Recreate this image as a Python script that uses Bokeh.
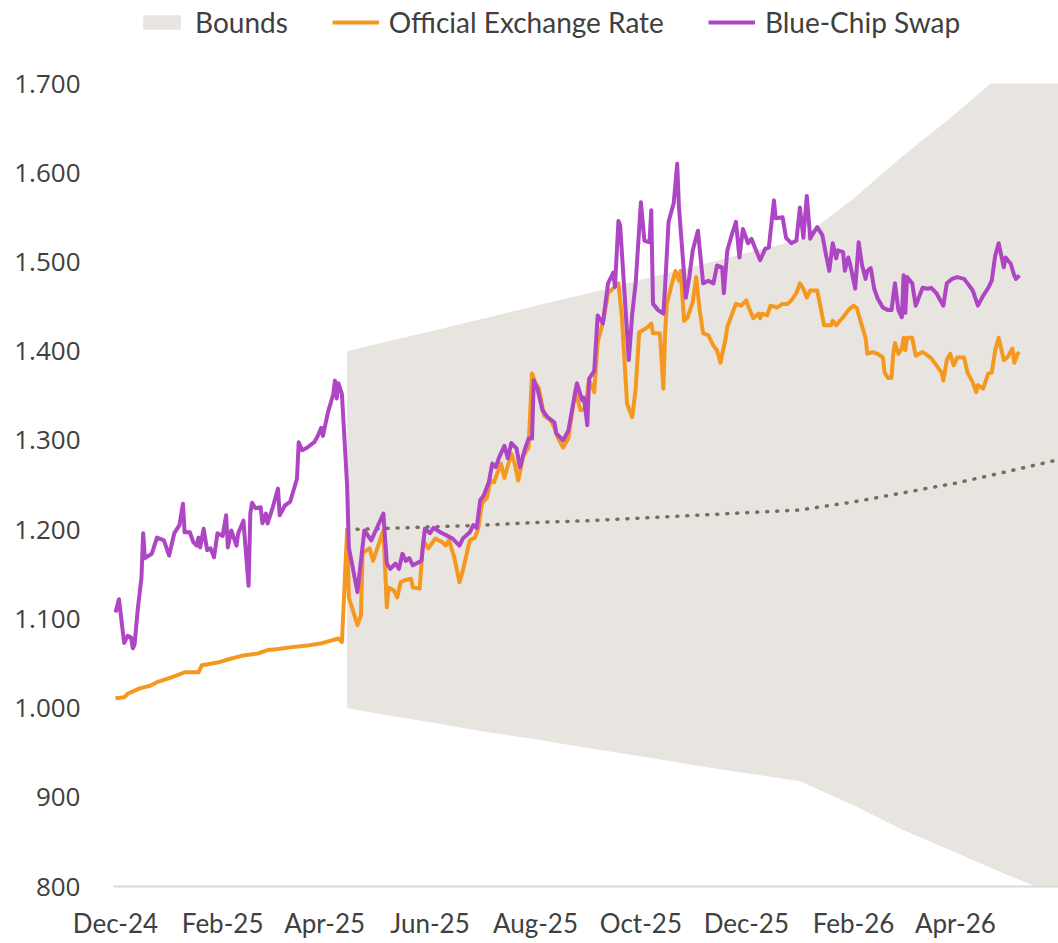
import pandas as pd
from bokeh.plotting import figure
from bokeh.layouts import column
from bokeh.models import (Range1d, FixedTicker, DatetimeTickFormatter, CustomJSTickFormatter,
                          Legend, LegendItem, ColumnDataSource)
from bokeh.embed import file_html
from bokeh.resources import INLINE

# ---------------- data ----------------
official_dates = [
    "2024-12-01", "2024-12-06", "2024-12-08", "2024-12-15", "2024-12-21", "2024-12-25",
    "2025-01-02", "2025-01-10", "2025-01-18", "2025-01-20", "2025-01-29", "2025-02-05",
    "2025-02-13", "2025-02-21", "2025-02-27", "2025-03-04", "2025-03-12", "2025-03-22",
    "2025-03-31", "2025-04-09", "2025-04-11",
    "2025-04-14", "2025-04-15", "2025-04-20", "2025-04-22", "2025-04-23", "2025-04-27",
    "2025-04-29", "2025-05-05", "2025-05-07", "2025-05-08", "2025-05-11", "2025-05-13",
    "2025-05-15", "2025-05-17", "2025-05-21", "2025-05-22", "2025-05-26", "2025-05-28",
    "2025-05-31", "2025-06-04", "2025-06-08", "2025-06-10", "2025-06-12", "2025-06-15",
    "2025-06-18", "2025-06-20", "2025-06-24", "2025-06-27", "2025-06-29", "2025-07-01",
    "2025-07-04", "2025-07-06", "2025-07-08", "2025-07-12", "2025-07-14", "2025-07-18",
    "2025-07-20", "2025-07-22", "2025-07-25", "2025-07-28", "2025-07-30", "2025-08-01",
    "2025-08-03", "2025-08-06", "2025-08-10", "2025-08-12", "2025-08-14", "2025-08-17",
    "2025-08-20", "2025-08-24", "2025-08-27", "2025-08-30", "2025-09-01", "2025-09-04",
    "2025-09-06", "2025-09-09", "2025-09-12", "2025-09-18", "2025-09-20", "2025-09-23",
    "2025-09-26", "2025-09-28", "2025-09-30", "2025-10-05", "2025-10-07", "2025-10-08",
    "2025-10-12", "2025-10-14", "2025-10-15", "2025-10-16", "2025-10-19", "2025-10-21",
    "2025-10-23", "2025-10-24", "2025-10-26", "2025-10-28", "2025-10-31", "2025-11-02",
    "2025-11-04", "2025-11-06", "2025-11-09", "2025-11-12", "2025-11-14", "2025-11-16",
    "2025-11-19", "2025-11-20", "2025-11-23", "2025-11-25", "2025-11-28", "2025-12-01",
    "2025-12-02", "2025-12-05", "2025-12-08", "2025-12-09", "2025-12-10", "2025-12-13",
    "2025-12-15", "2025-12-19", "2025-12-22", "2025-12-25", "2025-12-27", "2025-12-30",
    "2026-01-01", "2026-01-03", "2026-01-05", "2026-01-07", "2026-01-11", "2026-01-13",
    "2026-01-15", "2026-01-19", "2026-01-20", "2026-01-22", "2026-01-26", "2026-01-29",
    "2026-02-01", "2026-02-03", "2026-02-05", "2026-02-08", "2026-02-09", "2026-02-12",
    "2026-02-15", "2026-02-18", "2026-02-19", "2026-02-21", "2026-02-23", "2026-02-24",
    "2026-02-25", "2026-02-27", "2026-03-01", "2026-03-02", "2026-03-03", "2026-03-04",
    "2026-03-07", "2026-03-09", "2026-03-13", "2026-03-16", "2026-03-18", "2026-03-21",
    "2026-03-24", "2026-03-25", "2026-03-27", "2026-03-29", "2026-03-31", "2026-04-02",
    "2026-04-06", "2026-04-08", "2026-04-11", "2026-04-13", "2026-04-14", "2026-04-17",
    "2026-04-20", "2026-04-22", "2026-04-24", "2026-04-26", "2026-04-29", "2026-05-01",
    "2026-05-04", "2026-05-05", "2026-05-07", "2026-05-08",
]
official_values = [
    1011, 1012, 1016, 1022, 1025, 1029,
    1034, 1040, 1040, 1048, 1051, 1055,
    1059, 1061, 1065, 1066, 1068, 1070,
    1073, 1078, 1074,
    1199, 1124, 1093, 1104, 1174, 1179,
    1165, 1199, 1113, 1135, 1132, 1124,
    1141, 1143, 1145, 1135, 1134, 1188,
    1179, 1190, 1186, 1182, 1188, 1169,
    1141, 1154, 1188, 1191, 1202, 1229,
    1236, 1255, 1253, 1274, 1258, 1285,
    1274, 1255, 1283, 1292, 1375, 1364,
    1358, 1328, 1322, 1314, 1303, 1292,
    1302, 1356, 1334, 1335, 1368, 1354,
    1410, 1432, 1465, 1476, 1438, 1341,
    1326, 1358, 1421, 1427, 1431, 1420,
    1420, 1358, 1420, 1453, 1476, 1490,
    1479, 1490, 1434, 1438, 1455, 1483,
    1446, 1420, 1418, 1406, 1401, 1387,
    1414, 1427, 1443, 1453, 1451, 1457,
    1451, 1437, 1442, 1437, 1442, 1440,
    1451, 1449, 1453, 1453, 1457, 1465,
    1476, 1470, 1460, 1468, 1468, 1449,
    1429, 1429, 1434, 1429, 1438, 1446,
    1451, 1448, 1434, 1415, 1397, 1399,
    1397, 1393, 1376, 1370, 1370, 1397,
    1409, 1397, 1403, 1415, 1401, 1415,
    1415, 1395, 1399, 1395, 1392, 1384,
    1376, 1367, 1390, 1397, 1384, 1393,
    1393, 1376, 1365, 1354, 1362, 1358,
    1375, 1376, 1401, 1415, 1390, 1393,
    1403, 1387, 1397, 1399,
]

bcs_dates = [
    "2024-12-01", "2024-12-03", "2024-12-06", "2024-12-08", "2024-12-10", "2024-12-11",
    "2024-12-12", "2024-12-14", "2024-12-16", "2024-12-17", "2024-12-18", "2024-12-22",
    "2024-12-25", "2024-12-29", "2025-01-01", "2025-01-04", "2025-01-07", "2025-01-09",
    "2025-01-10", "2025-01-13", "2025-01-15", "2025-01-17", "2025-01-18", "2025-01-19",
    "2025-01-21", "2025-01-23", "2025-01-25", "2025-01-27", "2025-01-29", "2025-02-01",
    "2025-02-03", "2025-02-04", "2025-02-06", "2025-02-09", "2025-02-10", "2025-02-13",
    "2025-02-16", "2025-02-17", "2025-02-18", "2025-02-20", "2025-02-23", "2025-02-24",
    "2025-02-26", "2025-02-27", "2025-03-02", "2025-03-05", "2025-03-06", "2025-03-09",
    "2025-03-12", "2025-03-16", "2025-03-17", "2025-03-19", "2025-03-22", "2025-03-26",
    "2025-03-28", "2025-03-30", "2025-03-31", "2025-04-03", "2025-04-06", "2025-04-07",
    "2025-04-08", "2025-04-09", "2025-04-11", "2025-04-14", "2025-04-15", "2025-04-20",
    "2025-04-24", "2025-04-28", "2025-05-05", "2025-05-07", "2025-05-09", "2025-05-12",
    "2025-05-14", "2025-05-16", "2025-05-18", "2025-05-20", "2025-05-22", "2025-05-25",
    "2025-05-27", "2025-05-29", "2025-06-01", "2025-06-03", "2025-06-07", "2025-06-11",
    "2025-06-14", "2025-06-18", "2025-06-20", "2025-06-24", "2025-06-26", "2025-06-28",
    "2025-06-30", "2025-07-02", "2025-07-05", "2025-07-07", "2025-07-09", "2025-07-11",
    "2025-07-14", "2025-07-16", "2025-07-18", "2025-07-21", "2025-07-23", "2025-07-26",
    "2025-07-28", "2025-07-30", "2025-07-31", "2025-08-02", "2025-08-05", "2025-08-08",
    "2025-08-12", "2025-08-13", "2025-08-17", "2025-08-20", "2025-08-25", "2025-08-28",
    "2025-08-29", "2025-08-31", "2025-09-01", "2025-09-04", "2025-09-06", "2025-09-09",
    "2025-09-12", "2025-09-15", "2025-09-16", "2025-09-18", "2025-09-19", "2025-09-24",
    "2025-09-26", "2025-09-28", "2025-10-01", "2025-10-03", "2025-10-06", "2025-10-07",
    "2025-10-08", "2025-10-11", "2025-10-14", "2025-10-15", "2025-10-17", "2025-10-20",
    "2025-10-22", "2025-10-23", "2025-10-27", "2025-10-29", "2025-10-31", "2025-11-03",
    "2025-11-06", "2025-11-09", "2025-11-12", "2025-11-14", "2025-11-17", "2025-11-18",
    "2025-11-20", "2025-11-23", "2025-11-25", "2025-11-27", "2025-11-29", "2025-12-02",
    "2025-12-04", "2025-12-06", "2025-12-09", "2025-12-12", "2025-12-14", "2025-12-17",
    "2025-12-18", "2025-12-22", "2025-12-24", "2025-12-27", "2025-12-30", "2026-01-01",
    "2026-01-03", "2026-01-05", "2026-01-07", "2026-01-08", "2026-01-11", "2026-01-14",
    "2026-01-16", "2026-01-18", "2026-01-20", "2026-01-22", "2026-01-23", "2026-01-26",
    "2026-01-27", "2026-01-29", "2026-01-30", "2026-02-02", "2026-02-04", "2026-02-06",
    "2026-02-08", "2026-02-09", "2026-02-11", "2026-02-13", "2026-02-15", "2026-02-18",
    "2026-02-21", "2026-02-23", "2026-02-25", "2026-02-27", "2026-03-01", "2026-03-02",
    "2026-03-03", "2026-03-04", "2026-03-07", "2026-03-09", "2026-03-13", "2026-03-16",
    "2026-03-18", "2026-03-21", "2026-03-25", "2026-03-27", "2026-03-30", "2026-04-02",
    "2026-04-06", "2026-04-08", "2026-04-11", "2026-04-14", "2026-04-17", "2026-04-20",
    "2026-04-22", "2026-04-24", "2026-04-26", "2026-04-29", "2026-04-30", "2026-05-03",
    "2026-05-05", "2026-05-06", "2026-05-08",
]
bcs_values = [
    1107, 1122, 1073, 1081, 1079, 1067,
    1071, 1113, 1146, 1196, 1168, 1173,
    1191, 1188, 1171, 1196, 1205, 1229,
    1197, 1197, 1186, 1182, 1191, 1180,
    1201, 1177, 1179, 1169, 1196, 1193,
    1216, 1180, 1199, 1182, 1196, 1210,
    1137, 1218, 1230, 1224, 1225, 1207,
    1218, 1207, 1225, 1246, 1216, 1227,
    1231, 1257, 1298, 1289, 1292, 1298,
    1305, 1314, 1305, 1332, 1352, 1367,
    1347, 1364, 1352, 1250, 1180, 1130,
    1199, 1188, 1218, 1162, 1156, 1162,
    1156, 1173, 1165, 1168, 1160, 1163,
    1165, 1201, 1196, 1202, 1197, 1193,
    1190, 1182, 1190, 1197, 1205, 1202,
    1233, 1238, 1253, 1274, 1270, 1281,
    1294, 1280, 1297, 1291, 1270, 1291,
    1302, 1302, 1367, 1359, 1334, 1326,
    1320, 1308, 1300, 1311, 1364, 1345,
    1348, 1317, 1369, 1378, 1440, 1431,
    1476, 1488, 1472, 1546, 1541, 1390,
    1442, 1477, 1567, 1524, 1522, 1558,
    1453, 1446, 1442, 1472, 1545, 1566,
    1610, 1562, 1460, 1483, 1513, 1535,
    1476, 1479, 1476, 1496, 1494, 1465,
    1513, 1533, 1545, 1505, 1537, 1521,
    1526, 1516, 1502, 1515, 1516, 1569,
    1549, 1550, 1527, 1521, 1524, 1561,
    1527, 1574, 1526, 1530, 1539, 1530,
    1509, 1490, 1521, 1504, 1513, 1511,
    1490, 1505, 1498, 1470, 1522, 1496,
    1481, 1490, 1493, 1470, 1459, 1449,
    1446, 1446, 1476, 1446, 1438, 1485,
    1443, 1483, 1476, 1451, 1471, 1470,
    1471, 1465, 1451, 1476, 1481, 1483,
    1481, 1476, 1468, 1451, 1462, 1471,
    1479, 1507, 1521, 1494, 1505, 1498,
    1485, 1481, 1485,
]

bound_dates = [
    "2025-04-14", "2025-05-01", "2025-06-01", "2025-07-01", "2025-08-01", "2025-09-01",
    "2025-10-01", "2025-11-01", "2025-12-01", "2026-01-01", "2026-02-01", "2026-03-01",
    "2026-04-01", "2026-05-01", "2026-06-01",
]
upper_bound = [1400, 1408, 1422, 1436, 1451, 1465, 1480, 1495, 1510, 1525, 1571, 1618, 1666, 1716, 1768]
lower_bound = [1000, 994, 984, 974, 965, 955, 946, 936, 927, 918, 891, 864, 838, 813, 789]
mid_line = [1200, 1201, 1203, 1205, 1208, 1210, 1213, 1216, 1219, 1222, 1231, 1241, 1252, 1265, 1279]

x_tick_dates = ["2024-12-01", "2025-02-01", "2025-04-01", "2025-06-01", "2025-08-01",
                "2025-10-01", "2025-12-01", "2026-02-01", "2026-04-01"]
y_ticks = [800, 900, 1000, 1100, 1200, 1300, 1400, 1500, 1600, 1700]

BAND_COLOR = "#E8E5E0"
OFF_COLOR = "#F5981F"
BCS_COLOR = "#AD45C4"

band_src = ColumnDataSource(dict(x=pd.to_datetime(bound_dates), lo=lower_bound, hi=upper_bound,
                                 mid=mid_line))
off_src = ColumnDataSource(dict(x=pd.to_datetime(official_dates), y=official_values))
bcs_src = ColumnDataSource(dict(x=pd.to_datetime(bcs_dates), y=bcs_values))

# ---------------- legend strip (its ranges hide the series; only the legend shows) ----------------
leg_fig = figure(width=1058, height=45, x_range=Range1d(0, 1), y_range=Range1d(0, 1),
                 min_border_left=0, min_border_right=0, min_border_top=0, min_border_bottom=0,
                 x_axis_location=None, y_axis_location=None,
                 output_backend="svg", toolbar_location=None)
leg_fig.outline_line_color = None
leg_fig.grid.visible = False
lb = leg_fig.varea(x="x", y1="lo", y2="hi", source=band_src, fill_color=BAND_COLOR)
lo = leg_fig.line(x="x", y="y", source=off_src, line_color=OFF_COLOR, line_width=4)
lc = leg_fig.line(x="x", y="y", source=bcs_src, line_color=BCS_COLOR, line_width=4)
legend = Legend(items=[LegendItem(label="Bounds", renderers=[lb]),
                       LegendItem(label="Official Exchange Rate", renderers=[lo]),
                       LegendItem(label="Blue-Chip Swap", renderers=[lc])],
                orientation="horizontal", location=(25, 6),
                background_fill_alpha=0, border_line_alpha=0, padding=0, margin=0,
                spacing=44, glyph_width=47, glyph_height=18, label_standoff=10,
                label_text_font="Lato", label_text_font_size="28px",
                label_text_color="#404040", label_height=28)
leg_fig.add_layout(legend, "center")

# ---------------- main figure ----------------
x_start = pd.Timestamp("2024-11-29 20:00")
x_end = x_start + pd.Timedelta(days=546.8)

p = figure(width=1058, height=898, x_axis_type="datetime",
           x_range=Range1d(x_start, x_end), y_range=Range1d(800, 1700),
           min_border_left=113, min_border_right=0, min_border_top=38, min_border_bottom=57,
           output_backend="svg", toolbar_location=None)
p.outline_line_color = None
p.grid.visible = False
p.background_fill_color = "white"
p.border_fill_color = "white"

p.varea(x="x", y1="lo", y2="hi", source=band_src, fill_color=BAND_COLOR)
p.line(x="x", y="mid", source=band_src, line_color="#7B6B5C", line_width=3.5,
       line_dash="1 9", line_cap="round")
p.line(x="x", y="y", source=off_src, line_color=OFF_COLOR, line_width=4, line_join="round")
p.line(x="x", y="y", source=bcs_src, line_color=BCS_COLOR, line_width=4, line_join="round")

p.xaxis.ticker = FixedTicker(ticks=[pd.Timestamp(d).value / 1e6 for d in x_tick_dates])
fmt = "%b-%y"
p.xaxis.formatter = DatetimeTickFormatter(milliseconds=fmt, seconds=fmt, minsec=fmt, minutes=fmt,
                                          hourmin=fmt, hours=fmt, days=fmt, months=fmt, years=fmt)
p.xaxis.axis_line_color = "#D9D9D9"
p.xaxis.axis_line_width = 2
p.xaxis.major_tick_line_color = None
p.xaxis.minor_tick_line_color = None
p.xaxis.major_label_text_font = "Lato"
p.xaxis.major_label_text_font_size = "26px"
p.xaxis.major_label_text_color = "#404040"
p.xaxis.major_label_standoff = 14

p.yaxis.ticker = FixedTicker(ticks=y_ticks)
p.yaxis.formatter = CustomJSTickFormatter(code="""
    const v = Math.round(tick);
    if (v >= 1000) {
        return Math.floor(v / 1000) + '.' + String(v % 1000).padStart(3, '0');
    }
    return String(v);
""")
p.yaxis.axis_line_color = None
p.yaxis.major_tick_line_color = None
p.yaxis.minor_tick_line_color = None
p.yaxis.major_label_text_font = "Open Sans"
p.yaxis.major_label_text_font_size = "26px"
p.yaxis.major_label_text_color = "#404040"
p.yaxis.major_label_standoff = 27

layout = column(leg_fig, p, spacing=0)
open("out.html", "w").write(file_html(layout, INLINE))
